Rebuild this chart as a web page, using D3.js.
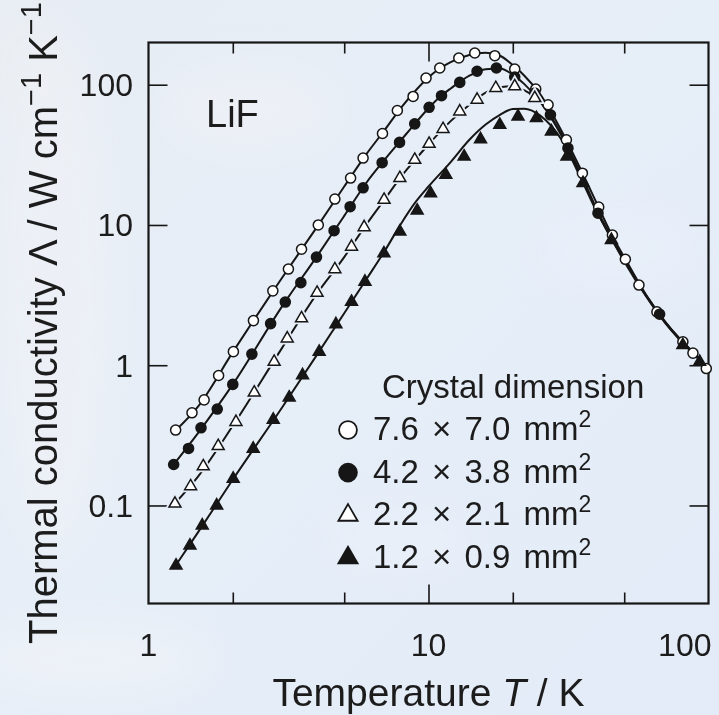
<!DOCTYPE html>
<html>
<head>
<meta charset="utf-8">
<script src="https://cdn.jsdelivr.net/npm/d3@7/dist/d3.min.js"></script>
<style>
  body { margin: 0; background: #e6edf7; }
  svg { display: block; }
  text { font-family: "Liberation Sans", Arial, sans-serif; fill: #1c1c1c; }
</style>
</head>
<body>
<svg id="chart" width="719" height="715"></svg>
<script>
// measured points, T in K and conductivity in W cm^-1 K^-1
const openCircleT = [1.25, 1.43, 1.58, 1.78, 2.01, 2.37, 2.78, 3.16, 3.52, 4.04, 4.63, 5.27, 5.84, 6.85, 7.74, 8.81, 9.8, 10.97, 12.83, 14.63, 17.25, 20.32, 24.15, 26.73, 31.08, 35.45, 40.53, 45.37, 50.47, 56.44, 65.43, 81.0, 88.0, 98.2];
const openCircleK = [0.345, 0.458, 0.566, 0.845, 1.25, 2.08, 3.39, 4.85, 6.71, 10.0, 15.3, 21.6, 30.0, 44.9, 65.5, 82.5, 111.6, 131.6, 155.1, 168.4, 161.1, 129.4, 93.2, 71.9, 40.5, 23.4, 13.4, 8.48, 5.69, 3.73, 2.40, 1.47, 1.22, 0.947];

const filledCircleT = [1.23, 1.39, 1.54, 1.76, 2.0, 2.34, 2.73, 3.08, 3.5, 3.98, 4.6, 5.25, 5.84, 6.83, 7.88, 8.93, 10.05, 11.13, 12.93, 14.91, 17.48, 20.32, 23.96, 27.26, 31.48, 40.3, 66.9];
const filledCircleK = [0.196, 0.255, 0.358, 0.487, 0.73, 1.2, 1.98, 2.82, 3.88, 5.9, 9.1, 13.5, 18.4, 27.8, 38.8, 52.6, 69.0, 83.5, 103.9, 124.8, 131.6, 113.5, 87.3, 61.0, 35.3, 12.13, 2.31];

const openTriT = [1.243, 1.414, 1.569, 1.774, 2.053, 2.386, 2.81, 3.13, 3.52, 4.0, 4.63, 5.31, 5.89, 6.94, 7.9, 8.93, 10.05, 11.27, 12.93, 14.91, 17.39, 20.32, 23.96];
const openTriK = [0.103, 0.137, 0.190, 0.265, 0.394, 0.638, 1.057, 1.55, 2.16, 3.28, 4.83, 7.0, 9.63, 15.1, 21.6, 29.1, 37.9, 48.3, 64.5, 78.1, 94.7, 97.3, 80.3];

const filledTriT = [1.254, 1.406, 1.556, 1.752, 2.007, 2.366, 2.79, 3.18, 3.55, 4.07, 4.67, 5.31, 5.93, 6.93, 7.9, 9.11, 10.17, 11.53, 13.4, 15.34, 17.97, 20.88, 24.29, 27.48, 31.23, 35.62, 45.0, 81.0, 92.96];
const filledTriK = [0.0373, 0.0518, 0.072, 0.1, 0.155, 0.254, 0.409, 0.588, 0.848, 1.245, 1.96, 2.83, 3.94, 6.28, 8.96, 12.65, 16.8, 22.8, 30.7, 40.9, 51.8, 59.4, 57.8, 46.4, 30.7, 19.9, 7.81, 1.39, 1.057];

// fitted curves
const fitOpenCircleT = [1.25, 1.5, 2, 3, 4, 5, 6, 7, 8, 9, 10, 11, 12, 14, 16, 18, 20, 22, 25, 30, 35, 40, 45, 50, 60, 70, 80, 90, 100];
const fitOpenCircleK = [0.343, 0.505, 1.24, 4.2, 9.7, 18.8, 32, 48, 69, 91, 113, 131, 145, 163, 169, 161, 138, 116, 86, 46, 24.8, 14.1, 8.6, 5.9, 3.15, 2.05, 1.5, 1.18, 0.93];

const fitFilledCircleT = [1.23, 1.5, 2, 3, 4, 5, 6, 7, 8, 9, 10, 11, 12, 14, 16, 18, 20, 22, 25, 30, 35, 40, 45, 50, 60, 70, 80, 90, 100];
const fitFilledCircleK = [0.196, 0.327, 0.73, 2.63, 6.0, 11.6, 20, 29.5, 40.5, 53.5, 68, 82, 94, 116, 129, 130.5, 118, 101, 76, 42.5, 22.3, 12.5, 8.0, 5.65, 3.1, 2.02, 1.5, 1.18, 0.93];

const fitOpenTriT = [1.24, 1.5, 2, 3, 4, 5, 6, 7, 8, 9, 10, 12, 14, 16, 18, 20, 22, 25, 30, 35, 40, 45, 50, 60, 70, 80, 90, 100];
const fitOpenTriK = [0.103, 0.16, 0.37, 1.33, 3.25, 5.9, 10.1, 15.4, 22.2, 29.5, 37.5, 55, 72, 88, 96, 97.5, 91, 76, 43.5, 23.2, 12.8, 8.2, 5.7, 3.12, 2.03, 1.49, 1.17, 0.93];

const fitFilledTriT = [1.25, 1.5, 2, 3, 4, 5, 6, 7, 8, 9, 10, 12, 14, 16, 18, 20, 22, 25, 30, 35, 40, 45, 50, 60, 70, 80, 90, 100];
const fitFilledTriK = [0.0373, 0.064, 0.153, 0.50, 1.19, 2.35, 4.1, 6.6, 10.3, 14.6, 18.8, 28.1, 40.5, 52, 61, 67, 67.5, 60.5, 40, 21.5, 12.3, 8.0, 5.5, 3.08, 2.0, 1.47, 1.16, 0.92];

const legendLabels = ['7.6 \u00d7 7.0 mm', '4.2 \u00d7 3.8 mm', '2.2 \u00d7 2.1 mm', '1.2 \u00d7 0.9 mm'];

// axis ticks
const xLabelTicks = [1, 10, 100];
const xMajorTicks = [10];
const xMinorTicks = [2, 5, 20, 50];
const yTicks = [0.1, 1, 10, 100];

const zip = (a, b) => a.map((v, i) => [v, b[i]]);

const series = [
  { points: zip(openCircleT, openCircleK), fit: zip(fitOpenCircleT, fitOpenCircleK), shape: d3.symbolCircle, filled: false },
  { points: zip(filledCircleT, filledCircleK), fit: zip(fitFilledCircleT, fitFilledCircleK), shape: d3.symbolCircle, filled: true },
  { points: zip(openTriT, openTriK), fit: zip(fitOpenTriT, fitOpenTriK), shape: d3.symbolTriangle, filled: false },
  { points: zip(filledTriT, filledTriK), fit: zip(fitFilledTriT, fitFilledTriK), shape: d3.symbolTriangle, filled: true }
];

const ink = '#161616';
const bg = '#e5edf8';
const frame = { left: 148.5, right: 708.5, top: 42.5, bottom: 603.5 };

const svg = d3.select('#chart');

// ---- soft photographic background
const defs = svg.append('defs');
const grad = defs.append('linearGradient').attr('id', 'bgGrad')
  .attr('x1', 0).attr('y1', 0).attr('x2', 1).attr('y2', 1);
grad.append('stop').attr('offset', 0).attr('stop-color', '#e8edf4');
grad.append('stop').attr('offset', 0.5).attr('stop-color', '#e6eef8');
grad.append('stop').attr('offset', 1).attr('stop-color', '#e2ebf7');
defs.append('filter').attr('id', 'soft').attr('x', -0.5).attr('y', -0.5).attr('width', 2).attr('height', 2)
  .append('feGaussianBlur').attr('stdDeviation', 18);

svg.append('rect').attr('width', 719).attr('height', 715).attr('fill', 'url(#bgGrad)');
const haze = svg.append('g').attr('filter', 'url(#soft)');
[[55, 300, 60, 260, 0.55, '#f1f3f6'], [250, 110, 90, 45, 0.45, '#f2f4f7'], [90, 660, 120, 40, 0.5, '#f3f5f8'],
 [400, 540, 70, 25, 0.35, '#f4f7fb'], [620, 250, 80, 40, 0.35, '#eef4fb'], [20, 60, 40, 60, 0.4, '#eef0f3']]
  .forEach(([cx, cy, rx, ry, op, c]) => {
    haze.append('ellipse').attr('cx', cx).attr('cy', cy).attr('rx', rx).attr('ry', ry)
      .attr('fill', c).attr('opacity', op);
  });

// ---- scales
const x = d3.scaleLog().domain([1, 100]).range([frame.left, frame.right]);
const y = d3.scaleLog().domain([0.02, 200]).range([frame.bottom, frame.top]);
const plotW = frame.right - frame.left;
const plotH = frame.bottom - frame.top;

// ---- inward ticks on all four sides
function tickAxis(axisFn, scale, values, size, transform) {
  const g = svg.append('g').attr('transform', transform)
    .call(axisFn(scale).tickValues(values).tickSize(-size).tickFormat(''));
  g.select('.domain').remove();
  g.selectAll('.tick line').attr('stroke', ink).attr('stroke-width', 1.6);
}
tickAxis(d3.axisBottom, x, xMinorTicks, 11, `translate(0,${frame.bottom})`);
tickAxis(d3.axisBottom, x, xMajorTicks, 19, `translate(0,${frame.bottom})`);
tickAxis(d3.axisTop, x, xMinorTicks, 11, `translate(0,${frame.top})`);
tickAxis(d3.axisTop, x, xMajorTicks, 19, `translate(0,${frame.top})`);
tickAxis(d3.axisLeft, y, yTicks, 19, `translate(${frame.left},0)`);
tickAxis(d3.axisRight, y, yTicks, 19, `translate(${frame.right},0)`);

svg.append('rect')
  .attr('x', frame.left).attr('y', frame.top)
  .attr('width', plotW).attr('height', plotH)
  .attr('fill', 'none').attr('stroke', ink).attr('stroke-width', 2.2);

// ---- tick labels
svg.append('g').selectAll('text').data(xLabelTicks).join('text')
  .attr('x', d => d === 100 ? x(d) + 3 : x(d))
  .attr('y', 656)
  .attr('text-anchor', d => d === 100 ? 'end' : 'middle')
  .style('font-size', '32px')
  .text(d => d3.format('~g')(d));

svg.append('g').selectAll('text').data(yTicks).join('text')
  .attr('x', 133)
  .attr('y', d => y(d))
  .attr('dy', '0.36em')
  .attr('text-anchor', 'end')
  .style('font-size', '32px')
  .text(d => d3.format('~g')(d));

// ---- axis titles
const xt = svg.append('text')
  .attr('x', (frame.left + frame.right) / 2).attr('y', 706)
  .attr('text-anchor', 'middle').style('font-size', '39px');
xt.append('tspan').text('Temperature ');
xt.append('tspan').style('font-style', 'italic').text('T');
xt.append('tspan').text(' / K');

const yt = svg.append('text')
  .attr('transform', 'translate(57,644) rotate(-90)')
  .style('font-size', '40px');
yt.append('tspan').text('Thermal conductivity \u039b / W cm');
yt.append('tspan').attr('dy', -16).style('font-size', '29px').text('\u22121');
yt.append('tspan').attr('dy', 16).text(' K');
yt.append('tspan').attr('dy', -16).style('font-size', '29px').text('\u22121');

svg.append('text').attr('x', 206).attr('y', 127).style('font-size', '38px').text('LiF');

// ---- curves and markers
const line = d3.line()
  .x(d => x(d[0]))
  .y(d => y(d[1]))
  .curve(d3.curveMonotoneX);

const plot = svg.append('g');

series.forEach(s => {
  plot.append('path')
    .attr('d', line(s.fit))
    .attr('fill', 'none')
    .attr('stroke', ink)
    .attr('stroke-width', 2);
});

function symbolPath(s, big) {
  const isTri = s.shape === d3.symbolTriangle;
  const size = big ? (isTri ? 160 : 250) : (isTri ? 62 : 80);
  return d3.symbol().type(s.shape).size(size)();
}

series.forEach(s => {
  const g = plot.append('g');
  if (!s.filled && s.shape === d3.symbolTriangle) {
    // a thin halo so the line breaks around the open triangles
    g.selectAll('path.halo').data(s.points).join('path')
      .attr('class', 'halo')
      .attr('d', symbolPath(s, false))
      .attr('transform', d => `translate(${x(d[0])},${y(d[1])})`)
      .attr('fill', bg).attr('stroke', bg).attr('stroke-width', 5);
  }
  g.selectAll('path.mark').data(s.points).join('path')
    .attr('class', 'mark')
    .attr('d', symbolPath(s, false))
    .attr('transform', d => `translate(${x(d[0])},${y(d[1])})`)
    .attr('fill', s.filled ? ink : '#ffffff')
    .attr('stroke', ink)
    .attr('stroke-width', 1.5);
});

// ---- legend
const legend = svg.append('g');
legend.append('text').attr('x', 382).attr('y', 398).style('font-size', '33px').text('Crystal dimension');

series.forEach((s, i) => {
  const yy = 440 + i * 42.6;
  legend.append('path')
    .attr('d', symbolPath(s, true))
    .attr('transform', `translate(348,${yy - 10})`)
    .attr('fill', s.filled ? ink : '#ffffff')
    .attr('stroke', ink).attr('stroke-width', 1.8);
  const t = legend.append('text').attr('x', 373).attr('y', yy)
    .style('font-size', '33px').style('word-spacing', '4px');
  t.append('tspan').text(legendLabels[i]);
  t.append('tspan').attr('dy', -13).style('font-size', '23px').text('2');
});
</script>
</body>
</html>
